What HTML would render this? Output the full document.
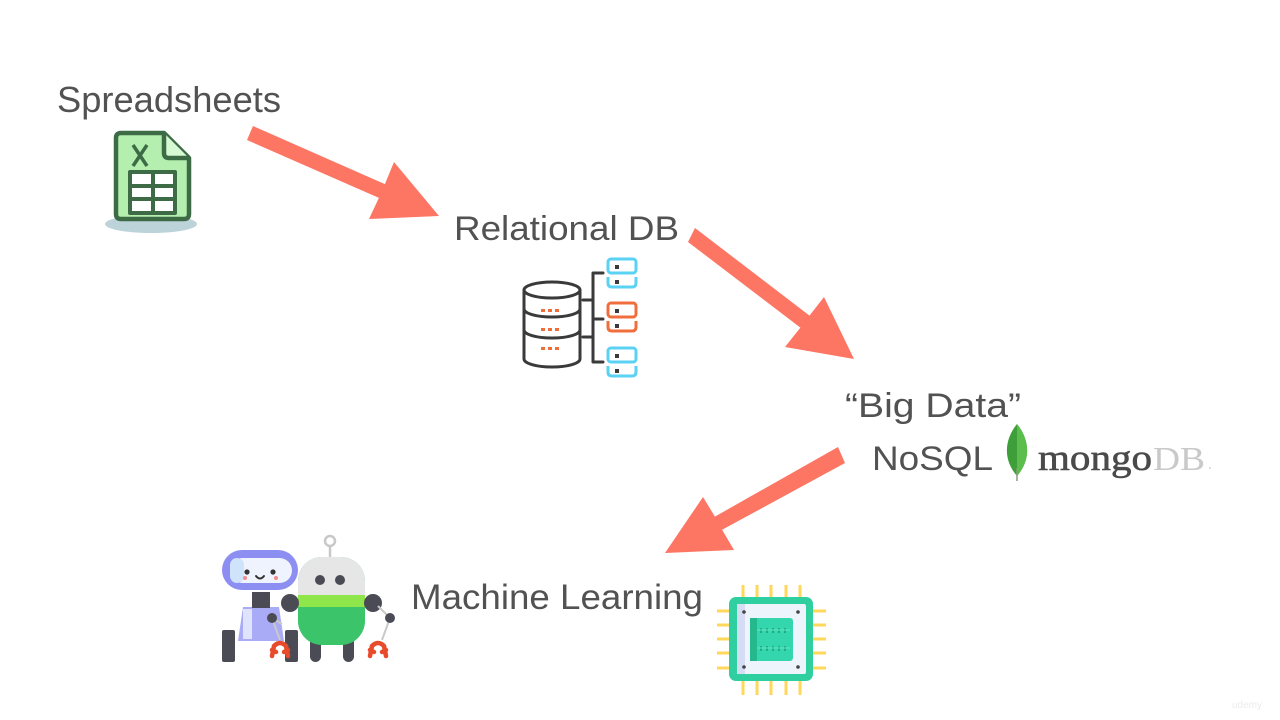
<!DOCTYPE html>
<html><head><meta charset="utf-8"><style>
html,body{margin:0;padding:0;background:#fff;}
svg{display:block;}
</style></head><body>
<svg width="1280" height="720" viewBox="0 0 1280 720" xmlns="http://www.w3.org/2000/svg">
<rect width="1280" height="720" fill="#fff"/>

<!-- Arrows -->
<g fill="#fd7563">
<polygon points="253,126 384.9,184.1 394,162 439,216 369,219 378.9,197.9 247,140"/>
<polygon points="695,228 809.5,315.6 824,297 854,359 785,347 800.4,327.6 688,242"/>
<polygon points="838,447 714.9,516.6 703,497 665,553 734,550 722.1,529.8 845,463"/>
</g>

<!-- Texts -->
<g font-family="Liberation Sans, sans-serif" fill="#525252">
<text x="57" y="112" font-size="36" textLength="224" lengthAdjust="spacingAndGlyphs">Spreadsheets</text>
<text x="454" y="240" font-size="34" textLength="225" lengthAdjust="spacingAndGlyphs">Relational DB</text>
<text x="845" y="417" font-size="34" textLength="176" lengthAdjust="spacingAndGlyphs">“Big Data”</text>
<text x="872" y="470" font-size="34" textLength="121" lengthAdjust="spacingAndGlyphs">NoSQL</text>
<text x="411" y="609" font-size="35" textLength="292" lengthAdjust="spacingAndGlyphs">Machine Learning</text>
</g>

<!-- Mongo -->
<path d="M1017,424 C1004,440 1003,460 1017,476 C1031,460 1030,440 1017,424 Z" fill="#3d9e3a"/>
<path d="M1017,424 C1030,440 1031,460 1017,476 Z" fill="#5bbd4b"/>
<line x1="1017" y1="468" x2="1017" y2="481" stroke="#8a9a7a" stroke-width="1.5"/>
<text x="1038" y="470" font-family="Liberation Serif, serif" font-size="37" fill="#4a4a4a" stroke="#4a4a4a" stroke-width="0.6" textLength="114" lengthAdjust="spacingAndGlyphs">mongo</text>
<text x="1153" y="470" font-family="Liberation Serif, serif" font-size="34" fill="#c9c9c9" textLength="52" lengthAdjust="spacingAndGlyphs">DB</text>
<circle cx="1210" cy="468" r="1" fill="#d5d5d5"/>

<!-- Excel icon -->
<ellipse cx="151" cy="224" rx="46" ry="9" fill="#bcd3d9"/>
<path d="M121,133 H164 L189,158 V214 Q189,219 184,219 H121 Q116,219 116,214 V138 Q116,133 121,133 Z" fill="#b5efb0" stroke="#3c6b45" stroke-width="4.5" stroke-linejoin="round"/>
<path d="M164,133 V153 Q164,158 169,158 H189" fill="#d6f8d2" stroke="#3c6b45" stroke-width="4.5" stroke-linejoin="round"/>
<line x1="133" y1="145" x2="147" y2="166" stroke="#3c6b45" stroke-width="3.5"/>
<line x1="147" y1="145" x2="133" y2="166" stroke="#3c6b45" stroke-width="3.5"/>
<rect x="128" y="170" width="49" height="45" rx="2" fill="#3c6b45"/>
<g fill="#fff">
<rect x="132" y="174" width="19" height="10"/><rect x="155" y="174" width="18" height="10"/>
<rect x="132" y="188" width="19" height="9"/><rect x="155" y="188" width="18" height="9"/>
<rect x="132" y="201" width="19" height="10"/><rect x="155" y="201" width="18" height="10"/>
</g>

<!-- DB icon -->
<g fill="none" stroke="#3a3a3a" stroke-width="3" stroke-linecap="round" stroke-linejoin="round">
<ellipse cx="552" cy="290" rx="28" ry="8"/>
<path d="M524,290 V359 A28,8 0 0 0 580,359 V290"/>
<path d="M524,309 A28,8 0 0 0 580,309"/>
<path d="M524,330 A28,8 0 0 0 580,330"/>
<path d="M603,273 H593 V362 H603 M593,319 H603 M583,300 H593 M583,337 H593"/>
</g>
<g fill="#f06d3c">
<rect x="541" y="309" width="4" height="3"/><rect x="548" y="309" width="4" height="3"/><rect x="555" y="309" width="4" height="3"/>
<rect x="541" y="328" width="4" height="3"/><rect x="548" y="328" width="4" height="3"/><rect x="555" y="328" width="4" height="3"/>
<rect x="541" y="347" width="4" height="3"/><rect x="548" y="347" width="4" height="3"/><rect x="555" y="347" width="4" height="3"/>
</g>
<g fill="none" stroke-width="3" stroke-linejoin="round">
<g stroke="#5ad2f4">
<rect x="608" y="259" width="28" height="14" rx="3"/>
<path d="M608,277 V283 Q608,287 612,287 H632 Q636,287 636,283 V277"/>
<rect x="608" y="348" width="28" height="14" rx="3"/>
<path d="M608,366 V372 Q608,376 612,376 H632 Q636,376 636,372 V366"/>
</g>
<g stroke="#f06d3c">
<rect x="608" y="303" width="28" height="14" rx="3"/>
<path d="M608,321 V327 Q608,331 612,331 H632 Q636,331 636,327 V321"/>
</g>
</g>
<g fill="#3a3a3a">
<rect x="615" y="265" width="4" height="4"/><rect x="615" y="280" width="4" height="4"/>
<rect x="615" y="309" width="4" height="4"/><rect x="615" y="324" width="4" height="4"/>
<rect x="615" y="354" width="4" height="4"/><rect x="615" y="369" width="4" height="4"/>
</g>

<!-- Purple robot -->
<rect x="222" y="630" width="13" height="32" rx="2" fill="#4b4b55"/>
<rect x="285" y="630" width="13" height="32" rx="2" fill="#4b4b55"/>
<path d="M243,607 H279 L284,641 H238 Z" fill="#aaabf6"/>
<rect x="243" y="609" width="9" height="30" fill="#dfe3fb"/>
<rect x="252" y="592" width="18" height="16" fill="#4b4b55"/>
<rect x="222" y="550" width="76" height="40" rx="20" fill="#8d8ef1"/>
<rect x="230" y="558" width="62" height="25" rx="12.5" fill="#eef3fd"/>
<rect x="230" y="558" width="14" height="25" rx="7" fill="#cfe3fb"/>
<circle cx="247" cy="572" r="2.6" fill="#333"/>
<circle cx="273" cy="572" r="2.6" fill="#333"/>
<path d="M256,576 Q260,581 264,576" fill="none" stroke="#333" stroke-width="2" stroke-linecap="round"/>
<circle cx="245" cy="578" r="2" fill="#f28b8b"/>
<circle cx="276" cy="578" r="2" fill="#f28b8b"/>
<path d="M282,624 L272,618 L280,640" fill="none" stroke="#c9c9c9" stroke-width="2"/>
<circle cx="272" cy="618" r="5" fill="#4b4b55"/>
<path d="M272,656 L274,646 Q280,640 286,646 L288,656 M276,652 L272,650 M284,652 L288,650" fill="none" stroke="#e84b2c" stroke-width="4.5" stroke-linecap="round" stroke-linejoin="round"/>

<!-- Green robot -->
<circle cx="330" cy="541" r="5" fill="none" stroke="#c8c8c8" stroke-width="2.5"/>
<line x1="330" y1="546" x2="330" y2="558" stroke="#c8c8c8" stroke-width="2.5"/>
<rect x="310" y="632" width="11" height="30" rx="5.5" fill="#4b4b55"/>
<rect x="343" y="632" width="11" height="30" rx="5.5" fill="#4b4b55"/>
<clipPath id="gb"><rect x="298" y="557" width="67" height="88" rx="24"/></clipPath>
<g clip-path="url(#gb)">
<rect x="298" y="557" width="67" height="88" fill="#3cc46a"/>
<rect x="298" y="557" width="67" height="38" fill="#e6e6e6"/>
<rect x="298" y="595" width="67" height="12" fill="#8ee64a"/>
</g>
<circle cx="320" cy="580" r="5" fill="#4b4b55"/>
<circle cx="340" cy="580" r="5" fill="#4b4b55"/>
<circle cx="290" cy="603" r="9" fill="#4b4b55"/>
<circle cx="373" cy="603" r="9" fill="#4b4b55"/>
<path d="M378,606 L390,618 L382,640" fill="none" stroke="#c9c9c9" stroke-width="2"/>
<circle cx="390" cy="618" r="5" fill="#4b4b55"/>
<path d="M370,656 L372,646 Q378,640 384,646 L386,656 M374,652 L370,650 M382,652 L386,650" fill="none" stroke="#e84b2c" stroke-width="4.5" stroke-linecap="round" stroke-linejoin="round"/>

<!-- Chip -->
<g stroke="#ffd75a" stroke-width="3">
<path d="M743,585 V598 M757,585 V598 M771,585 V598 M786,585 V598 M800,585 V598"/>
<path d="M743,681 V695 M757,681 V695 M771,681 V695 M786,681 V695 M800,681 V695"/>
<path d="M717,611 H730 M717,625 H730 M717,639 H730 M717,653 H730 M717,668 H730"/>
<path d="M812,611 H826 M812,625 H826 M812,639 H826 M812,653 H826 M812,668 H826"/>
</g>
<rect x="729" y="597" width="84" height="84" rx="7" fill="#2fcf9f"/>
<rect x="737" y="604" width="69" height="70" rx="2" fill="#eef4fc"/>
<rect x="737" y="604" width="8" height="70" fill="#d6dcf3"/>
<circle cx="744" cy="612" r="1.8" fill="#444"/>
<circle cx="798" cy="612" r="1.8" fill="#444"/>
<circle cx="744" cy="667" r="1.8" fill="#444"/>
<circle cx="798" cy="667" r="1.8" fill="#444"/>
<rect x="750" y="618" width="43" height="43" rx="3" fill="#34d6ae"/>
<rect x="750" y="618" width="7" height="43" fill="#25b88c"/>
<g fill="#1fae84">
<rect x="760" y="628" width="2" height="5"/><rect x="766" y="628" width="2" height="5"/><rect x="772" y="628" width="2" height="5"/><rect x="778" y="628" width="2" height="5"/><rect x="784" y="628" width="2" height="5"/>
<rect x="760" y="646" width="2" height="5"/><rect x="766" y="646" width="2" height="5"/><rect x="772" y="646" width="2" height="5"/><rect x="778" y="646" width="2" height="5"/><rect x="784" y="646" width="2" height="5"/>
</g>
<line x1="757" y1="630" x2="790" y2="630" stroke="#5fe6c4" stroke-width="1"/>
<line x1="757" y1="648" x2="790" y2="648" stroke="#5fe6c4" stroke-width="1"/>

<text x="1232" y="708" font-family="Liberation Sans, sans-serif" font-size="10" fill="#ececec">udemy</text>
</svg>
</body></html>
